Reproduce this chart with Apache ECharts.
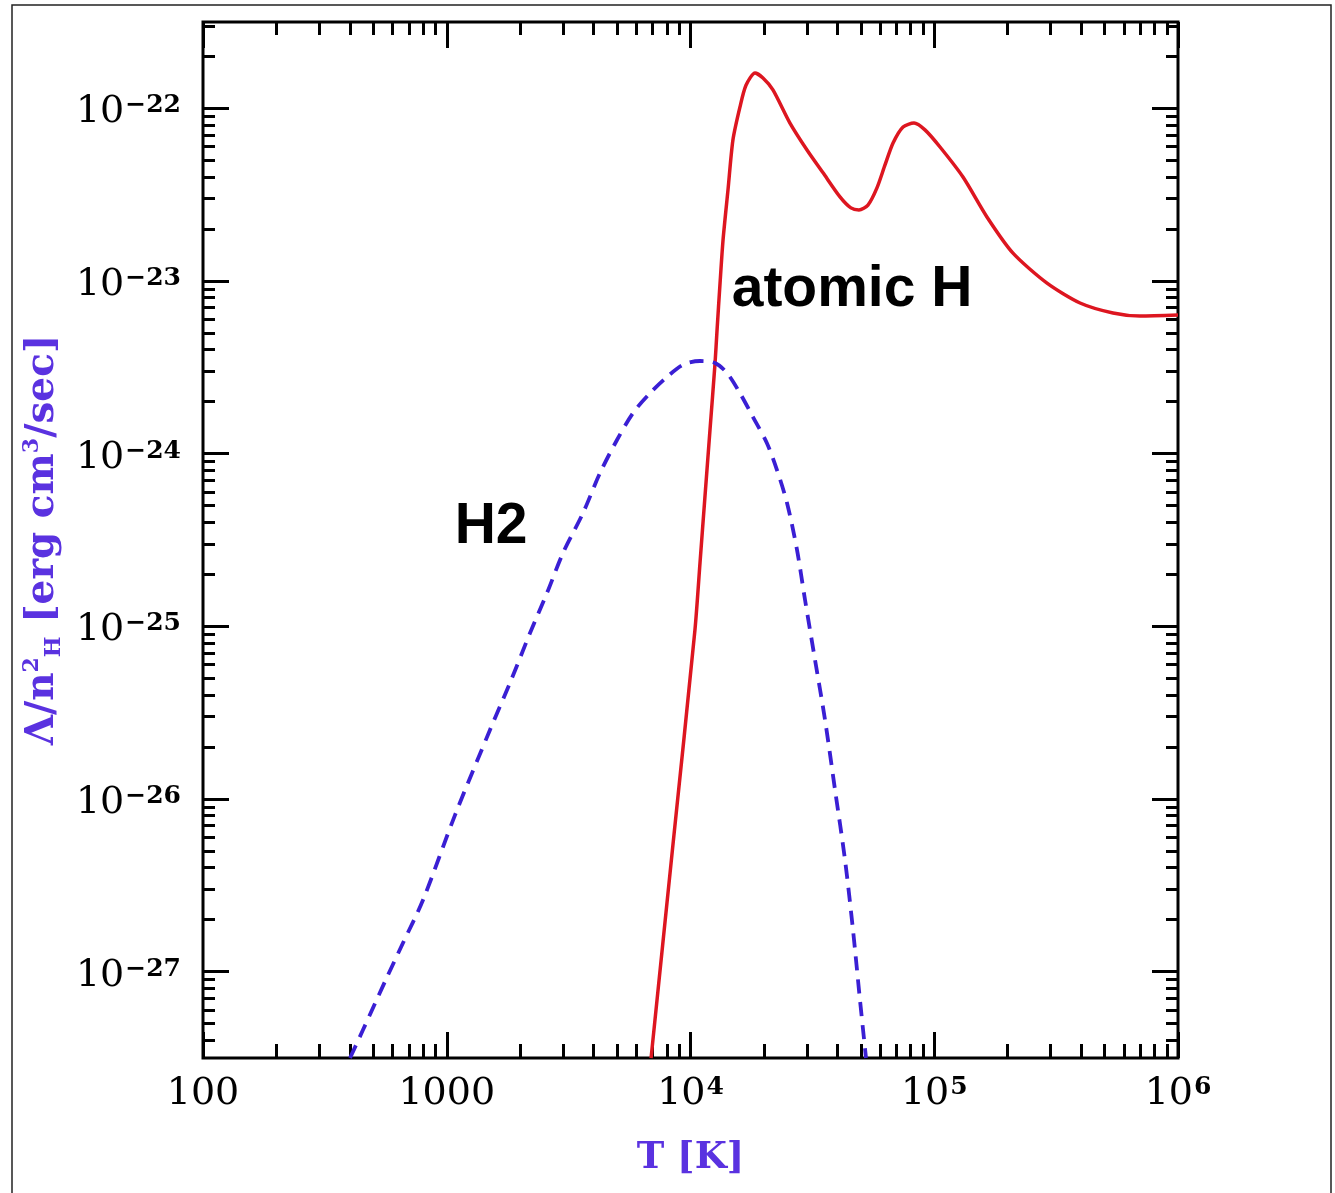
<!DOCTYPE html>
<html>
<head>
<meta charset="utf-8">
<title>Cooling functions</title>
<script src="https://cdn.jsdelivr.net/npm/echarts@6/dist/echarts.min.js"></script>
<style>
  html, body { margin: 0; padding: 0; background: #fff; }
  #main { width: 1335px; height: 1193px; }
</style>
</head>
<body>
<div id="main"></div>
<script>
// atomic H cooling curve (T in K, Lambda/nH^2 in erg cm^3/s)
var atomicT = [6890, 8430, 10430, 10940, 11460, 12020, 12610, 12850, 13220, 13600,
  14250, 14930, 15960, 16890, 18400, 19830, 21790, 25590, 30060, 34980,
  41050, 45510, 49100, 53460, 58200, 62800, 67760, 74470, 82600, 91600,
  105600, 131200, 164500, 210400, 290200, 396300, 541100, 698400, 1000000];
var atomicL = [3.16e-28, 5.07e-27, 9.53e-26, 2.33e-25, 5.61e-25, 1.37e-24, 3.35e-24, 5.20e-24, 9.72e-24, 1.73e-23,
  3.37e-23, 6.56e-23, 1.02e-22, 1.36e-22, 1.60e-22, 1.50e-22, 1.28e-22, 8.22e-23, 5.74e-23, 4.23e-23,
  3.07e-23, 2.65e-23, 2.58e-23, 2.75e-23, 3.46e-23, 4.70e-23, 6.30e-23, 7.80e-23, 8.22e-23, 7.50e-23,
  5.97e-23, 4.00e-23, 2.35e-23, 1.45e-23, 9.72e-24, 7.46e-24, 6.53e-24, 6.27e-24, 6.35e-24];

// H2 cooling curve
var h2T = [401, 453, 569, 662, 799, 1081, 1504, 1817, 2196, 2578,
  2999, 3622, 4254, 4993, 5808, 6821, 8010, 9311, 10940, 12610,
  14120, 15960, 18050, 20590, 22640, 24890, 27350, 29510, 32430, 35640,
  39170, 43040, 46420, 49580, 52480];
var h2L = [3.16e-28, 4.59e-28, 9.31e-28, 1.47e-27, 2.60e-27, 8.07e-27, 2.51e-26, 4.70e-26, 9.14e-26, 1.56e-25,
  2.66e-25, 4.53e-25, 7.73e-25, 1.20e-24, 1.72e-24, 2.24e-24, 2.78e-24, 3.27e-24, 3.44e-24, 3.35e-24,
  2.93e-24, 2.24e-24, 1.63e-24, 1.15e-24, 8.04e-25, 5.18e-25, 2.77e-25, 1.42e-25, 6.38e-26, 2.87e-26,
  1.13e-26, 4.44e-27, 1.74e-27, 6.85e-28, 3.16e-28];

// curve labels placed in data coordinates
var curveNames = ['atomic H', 'H2'];
var curveNameT = [46000, 1520];
var curveNameL = [8.87e-24, 3.76e-25];

// axis ranges (decades) and tick labels
var xRange = [100, 1e6];
var yRange = [Math.pow(10, -27.5), Math.pow(10, -21.5)];
var xTickLabels = ['100', '1000', '10^4', '10^5', '10^6'];
var xTickValues = [100, 1000, 1e4, 1e5, 1e6];
var yTickLabels = ['10^\u221227', '10^\u221226', '10^\u221225', '10^\u221224', '10^\u221223', '10^\u221222'];
var yTickValues = [1e-27, 1e-26, 1e-25, 1e-24, 1e-23, 1e-22];

var lg = Math.log10;
var xMin = lg(xRange[0]), xMax = lg(xRange[1]);
var yMin = lg(yRange[0]), yMax = lg(yRange[1]);

var majorX = xTickValues.map(lg);
var majorY = yTickValues.map(lg);

// minor ticks at 2..9 in each decade
function minors(lo, hi) {
    var out = [];
    for (var n = Math.floor(lo); n < hi; n++) {
        for (var k = 2; k <= 9; k++) {
            var v = n + lg(k);
            if (v >= lo - 1e-9 && v <= hi + 1e-9) out.push(v);
        }
    }
    return out;
}
var minorX = minors(xMin, xMax);
var minorY = minors(yMin, yMax);

function pairs(xs, ys) {
    return xs.map(function (x, i) { return [lg(x), lg(ys[i])]; });
}

function richLabel(s) {
    var p = s.split('^');
    return p.length > 1 ? '{b|' + p[0] + '}{s|' + p[1] + '}' : '{b|' + p[0] + '}';
}

var tickFont = 'DejaVu Serif';
var labelRich = {
    b: { fontFamily: tickFont, fontSize: 38, lineHeight: 40, color: '#000', padding: [8, 0, 0, 0] },
    s: { fontFamily: tickFont, fontSize: 25, fontWeight: 'bold', lineHeight: 25, verticalAlign: 'top', color: '#000', padding: [5, 0, 0, 1] }
};
var titleColor = '#5a32e0';

function xAx(grid, pos, ticks, len, withLabel) {
    var ax = {
        type: 'value', gridIndex: grid, position: pos, min: xMin, max: xMax,
        axisLine: { show: false },
        splitLine: { show: false },
        axisTick: { show: true, inside: true, length: len, customValues: ticks,
            lineStyle: { color: '#000', width: 3 } },
        axisLabel: { show: false }
    };
    if (withLabel) {
        ax.axisLabel = {
            show: true, customValues: majorX, margin: 12,
            formatter: function (v) {
                var i = majorX.findIndex(function (m) { return Math.abs(m - v) < 1e-6; });
                return i < 0 ? '' : richLabel(xTickLabels[i]);
            },
            rich: labelRich
        };
        ax.name = 'T [K]';
        ax.nameLocation = 'middle';
        ax.nameGap = 82;
        ax.nameTextStyle = { fontFamily: 'DejaVu Serif', fontWeight: 'bold', fontSize: 37, color: titleColor };
    }
    return ax;
}

function yAx(grid, pos, ticks, len, withLabel) {
    var ax = {
        type: 'value', gridIndex: grid, position: pos, min: yMin, max: yMax,
        axisLine: { show: false },
        splitLine: { show: false },
        axisTick: { show: true, inside: true, length: len, customValues: ticks,
            lineStyle: { color: '#000', width: 3 } },
        axisLabel: { show: false }
    };
    if (withLabel) {
        ax.axisLabel = {
            show: true, customValues: majorY, margin: 22,
            formatter: function (v) {
                var i = majorY.findIndex(function (m) { return Math.abs(m - v) < 1e-6; });
                return i < 0 ? '' : richLabel(yTickLabels[i]);
            },
            rich: labelRich
        };
        ax.name = '{n|\u039b/n}{sup|2}{sub|H}{n| [erg cm}{sup|3}{n|/sec]}';
        ax.nameLocation = 'middle';
        ax.nameGap = 122;
        ax.nameTextStyle = {
            color: titleColor,
            rich: {
                n: { fontFamily: 'DejaVu Serif', fontWeight: 'bold', fontSize: 39, lineHeight: 44, color: titleColor },
                sup: { fontFamily: 'DejaVu Serif', fontWeight: 'bold', fontSize: 22, lineHeight: 22, verticalAlign: 'top', color: titleColor },
                sub: { fontFamily: 'DejaVu Serif', fontWeight: 'bold', fontSize: 22, lineHeight: 22, verticalAlign: 'bottom', color: titleColor }
            }
        };
    }
    return ax;
}

var chart = echarts.init(document.getElementById('main'));
var gridBox = { left: 203, right: 157, top: 22, bottom: 135 };

chart.setOption({
    backgroundColor: '#fff',
    animation: false,
    graphic: [{
        type: 'rect', silent: true,
        shape: { x: 12, y: 5, width: 1319, height: 1210 },
        style: { fill: 'none', stroke: '#222', lineWidth: 1.5 }
    }],
    grid: [
        Object.assign({ show: true, borderColor: '#000', borderWidth: 3, backgroundColor: 'transparent' }, gridBox),
        Object.assign({ show: false }, gridBox)
    ],
    xAxis: [
        xAx(0, 'bottom', majorX, 26, true),
        xAx(0, 'top', majorX, 26, false),
        xAx(1, 'bottom', minorX, 14, false),
        xAx(1, 'top', minorX, 13, false)
    ],
    yAxis: [
        yAx(0, 'left', majorY, 26, true),
        yAx(0, 'right', majorY, 26, false),
        yAx(1, 'left', minorY, 12, false),
        yAx(1, 'right', minorY, 12, false)
    ],
    series: [
        {
            name: 'atomic H', type: 'line', xAxisIndex: 0, yAxisIndex: 0,
            data: pairs(atomicT, atomicL),
            showSymbol: false, smooth: 0.25, clip: true,
            lineStyle: { color: '#dd1620', width: 3.5 }
        },
        {
            name: 'H2', type: 'line', xAxisIndex: 0, yAxisIndex: 0,
            data: pairs(h2T, h2L),
            showSymbol: false, smooth: 0.3, clip: true,
            lineStyle: { color: '#3a1fd4', width: 3.8, type: [14, 9] }
        },
        {
            name: 'labels', type: 'scatter', xAxisIndex: 0, yAxisIndex: 0,
            symbolSize: 1, itemStyle: { color: 'transparent', opacity: 1 }, silent: true,
            data: curveNames.map(function (n, i) {
                return { name: n, value: [lg(curveNameT[i]), lg(curveNameL[i])] };
            }),
            label: {
                show: true, position: 'inside', formatter: '{b}', opacity: 1,
                fontFamily: 'Liberation Sans', fontWeight: 'bold', fontSize: 57, color: '#000'
            }
        }
    ]
});
</script>
</body>
</html>
